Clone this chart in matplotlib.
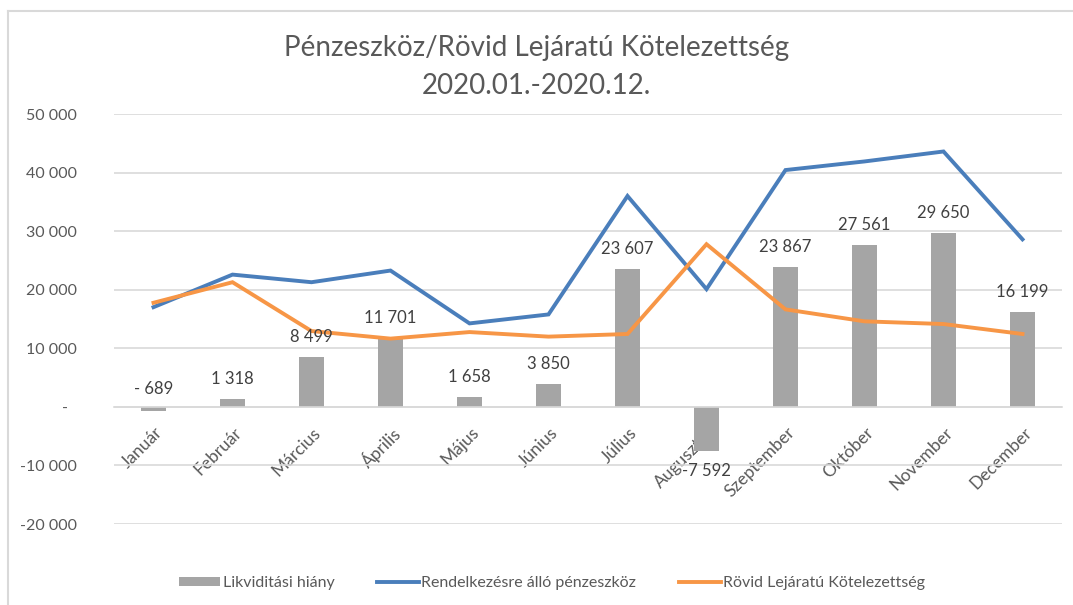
import matplotlib
matplotlib.use("Agg")
import matplotlib.pyplot as plt
from matplotlib.lines import Line2D
import matplotlib.transforms as mtransforms

plt.rcParams['font.family'] = ['Lato', 'DejaVu Sans']

months = ["Január", "Február", "Március", "Április", "Május", "Június",
          "Július", "Augusztus", "Szeptember", "Október", "November", "December"]
hiany = [-689, 1318, 8499, 11701, 1658, 3850, 23607, -7592, 23867, 27561, 29650, 16199]
hiany_labels = ["- 689", "1 318", "8 499", "11 701", "1 658", "3 850",
                "23 607", "-7 592", "23 867", "27 561", "29 650", "16 199"]
penzeszkoz = [17020, 22580, 21280, 23270, 14250, 15780, 36000, 20100, 40430, 41900, 43600, 28600]
kotelezettseg = [17770, 21280, 12940, 11650, 12770, 11990, 12440, 27770, 16640, 14600, 14140, 12440]
yticks = [-20000, -10000, 0, 10000, 20000, 30000, 40000, 50000]
ytick_labels = ["-20 000", "-10 000", "-  ", "10 000", "20 000", "30 000", "40 000", "50 000"]

W, H = 1073, 605
fig = plt.figure(figsize=(W / 100, H / 100), dpi=100)
ax = fig.add_axes([114 / W, 1 - 524 / H, (1062 - 114) / W, (524 - 114) / H])

# chart border (Excel chart area)
fig.add_artist(Line2D([8 / W, 8 / W], [0, 1 - 11 / H], color="#D9D9D9", lw=1.5, transform=fig.transFigure))
fig.add_artist(Line2D([8 / W, 1], [1 - 11 / H, 1 - 11 / H], color="#D9D9D9", lw=1.5, transform=fig.transFigure))

x = list(range(len(months)))
b = ax.bar(x, hiany, width=0.32, color="#A5A5A5", zorder=2, label="Likviditási hiány")
l1, = ax.plot(x, penzeszkoz, color="#4A7EBB", lw=2.8, zorder=3, solid_joinstyle="miter",
              label="Rendelkezésre álló pénzeszköz")
l2, = ax.plot(x, kotelezettseg, color="#F79646", lw=2.8, zorder=3, solid_joinstyle="miter",
              label="Rövid Lejáratú Kötelezettség")

for xi, v, lab in zip(x, hiany, hiany_labels):
    off = 20 if v >= 0 else -20
    if xi == 0:
        off = 22
    ax.annotate(lab, (xi, max(v, 0) if v >= 0 else v), xytext=(0, off * 0.72),
                textcoords="offset points", ha="center", va="center",
                fontsize=12, color="#404040", zorder=4)

ax.set_xlim(-0.5, len(months) - 0.5)
ax.set_ylim(-20000, 50000)
ax.set_yticks(yticks)
ax.set_yticklabels(ytick_labels)
ax.yaxis.grid(True, color="#D9D9D9", lw=1.2, zorder=0)
ax.set_axisbelow(True)
for s in ["top", "right", "left"]:
    ax.spines[s].set_visible(False)
ax.spines["bottom"].set_position(("data", 0))
ax.spines["bottom"].set_color("#D9D9D9")
ax.spines["bottom"].set_linewidth(1.2)
ax.tick_params(axis="y", length=0, pad=27, labelsize=11.5, labelcolor="#595959")
ax.tick_params(axis="x", length=0, pad=12.5, labelsize=12.5, labelcolor="#595959")
ax.set_xticks(x)
ax.set_xticklabels(months, rotation=45, ha="right", va="top", rotation_mode="anchor")
shift = mtransforms.ScaledTranslation(1 / 100, 0, fig.dpi_scale_trans)
for t in ax.get_xticklabels():
    t.set_transform(t.get_transform() + shift)

fig.text(0.5, 1 - 48 / H, "Pénzeszköz/Rövid Lejáratú Kötelezettség", ha="center", va="center",
         fontsize=20, color="#595959")
fig.text(0.5, 1 - 86 / H, "2020.01.-2020.12.", ha="center", va="center",
         fontsize=20, color="#595959")

fig.legend([b, l1, l2], [b.get_label(), l1.get_label(), l2.get_label()],
           loc="center", bbox_to_anchor=(552 / W, 1 - 583 / H), ncol=3, frameon=False,
           fontsize=11.5, labelcolor="#595959", handlelength=2.6, handletextpad=0.15,
           columnspacing=2.7, handleheight=0.5)

fig.savefig("out.png", dpi=100)
